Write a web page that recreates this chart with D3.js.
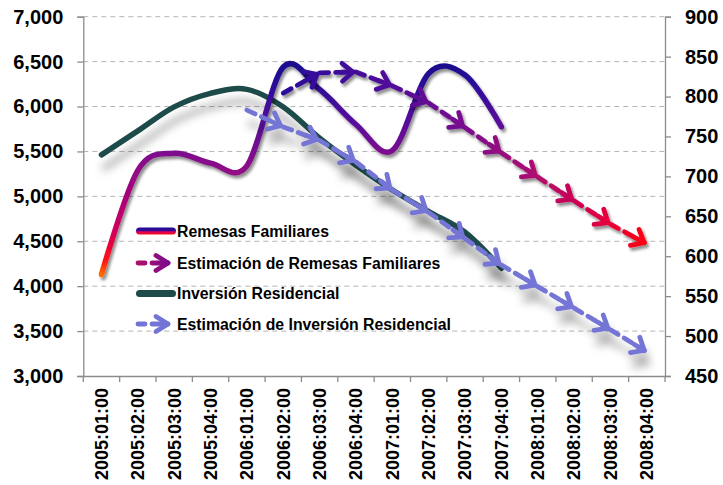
<!DOCTYPE html>
<html>
<head>
<meta charset="utf-8">
<script src="https://cdn.jsdelivr.net/npm/d3@7/dist/d3.min.js"></script>
<style>
  html, body { margin: 0; padding: 0; background: #fff; }
  svg { display: block; }
  text { font-family: "Liberation Sans", Arial, sans-serif; font-weight: bold; fill: #000; }
</style>
</head>
<body>
<svg id="chart" width="723" height="485"></svg>
<script>
// ---------------- DATA ----------------
const categories = ["2005:01:00","2005:02:00","2005:03:00","2005:04:00",
                    "2006:01:00","2006:02:00","2006:03:00","2006:04:00",
                    "2007:01:00","2007:02:00","2007:03:00","2007:04:00",
                    "2008:01:00","2008:02:00","2008:03:00","2008:04:00"];
// Left axis (Remesas Familiares)
const remesas        = [4130, 5290, 5480, 5370, 5340, 6440, 6190, 5800, 5510, 6370, 6350, 5775, null, null, null, null];
const estRemesas     = [null, null, null, null, null, 6150, 6375, 6385, 6230, 6040, 5765, 5485, 5215, 4950, 4690, 4470];
// Right axis (Inversión Residencial)
const inversion      = [727, 757, 787, 804, 809, 787, 748, 714, 683, 656, 630, 585, null, null, null, null];
const estInversion   = [null, null, null, null, 783, 762, 745, 718, 683, 655, 622, 589, 562, 535, 508, 480];
const leftTicks  = [3000, 3500, 4000, 4500, 5000, 5500, 6000, 6500, 7000];
const rightTicks = [450, 500, 550, 600, 650, 700, 750, 800, 850, 900];
const legendLabels = ["Remesas Familiares", "Estimación de Remesas Familiares",
                      "Inversión Residencial", "Estimación de Inversión Residencial"];

// ---------------- LAYOUT / STYLE ----------------
const P = { left: 83.3, right: 665, top: 16.7, bottom: 376 };
const green = "#1e4b4a", lilac = "#7474d6";

const svg = d3.select("#chart");
const defs = svg.append("defs");

const x = d3.scaleBand().domain(categories).range([P.left, P.right]).padding(0);
const cx = c => x(c) + x.bandwidth() / 2;
const yL = d3.scaleLinear().domain([3000, 7000]).range([P.bottom, P.top]);
const yR = d3.scaleLinear().domain([450, 900]).range([P.bottom, P.top]);

// gradients
const remStops = [[6450,"#1c0a8f"],[6150,"#33099a"],[5800,"#5a0a9a"],[5450,"#800a8c"],
                  [5000,"#a8057a"],[4600,"#d2005a"],[4300,"#ff0a1a"],[4130,"#ff6a00"]];
const gRem = defs.append("linearGradient").attr("id","gRem")
  .attr("gradientUnits","userSpaceOnUse")
  .attr("x1",0).attr("x2",0).attr("y1",yL(6450)).attr("y2",yL(4130));
remStops.forEach(s => gRem.append("stop")
  .attr("offset",(yL(s[0])-yL(6450))/(yL(4130)-yL(6450))).attr("stop-color",s[1]));

const estStops = [[0,"#2a0a9a"],[0.3,"#500a9a"],[0.5,"#7a0a8e"],[0.65,"#a30a78"],
                  [0.8,"#cc0555"],[0.9,"#e8033a"],[1,"#ff0010"]];
const gEst = defs.append("linearGradient").attr("id","gEst")
  .attr("gradientUnits","userSpaceOnUse")
  .attr("x1",cx(categories[5])).attr("x2",cx(categories[15])).attr("y1",0).attr("y2",0);
estStops.forEach(s => gEst.append("stop").attr("offset",s[0]).attr("stop-color",s[1]));

// legend gradients
const gLegRem = defs.append("linearGradient").attr("id","gLegRem")
  .attr("x1",0).attr("x2",0).attr("y1",0).attr("y2",1);
gLegRem.append("stop").attr("offset",0).attr("stop-color","#1c0a8f");
gLegRem.append("stop").attr("offset",0.45).attr("stop-color","#3a0a9a");
gLegRem.append("stop").attr("offset",0.6).attr("stop-color","#d0005a");
gLegRem.append("stop").attr("offset",1).attr("stop-color","#ff0a1a");
const gLegEst = defs.append("linearGradient").attr("id","gLegEst")
  .attr("gradientUnits","userSpaceOnUse")
  .attr("x1",137).attr("x2",170).attr("y1",0).attr("y2",0);
gLegEst.append("stop").attr("offset",0).attr("stop-color","#b0106a");
gLegEst.append("stop").attr("offset",1).attr("stop-color","#7a0a8e");

// shadow filters
function shadow(id, dx, dy, sd, op) {
  const f = defs.append("filter").attr("id", id)
    .attr("filterUnits","userSpaceOnUse").attr("x",0).attr("y",0).attr("width",723).attr("height",485);
  f.append("feDropShadow").attr("dx",dx).attr("dy",dy).attr("stdDeviation",sd)
    .attr("flood-color","#000").attr("flood-opacity",op);
}
shadow("shNear", 2, 3, 1.6, 0.45);
shadow("shFar", 3, 13, 4, 0.32);

// ---------------- GRID ----------------
svg.append("g").selectAll("line").data(leftTicks.filter(t => t !== 3000)).join("line")
  .attr("x1",P.left).attr("x2",P.right)
  .attr("y1",d=>yL(d)).attr("y2",d=>yL(d))
  .attr("stroke","#b4b4b4").attr("stroke-width",1).attr("stroke-dasharray","5,4");

// ---------------- AXES ----------------
const axL = svg.append("g").attr("transform",`translate(${P.left},0)`)
  .call(d3.axisLeft(yL).tickValues(leftTicks).tickFormat(d3.format(",")).tickSize(6).tickPadding(14));
const axR = svg.append("g").attr("transform",`translate(${P.right},0)`)
  .call(d3.axisRight(yR).tickValues(rightTicks).tickFormat(d3.format("d")).tickSize(6).tickPadding(14));
[axL, axR].forEach(a => {
  a.select(".domain").attr("stroke","#8c8c8c").attr("stroke-width",1.3);
  a.selectAll(".tick line").attr("stroke","#8c8c8c").attr("stroke-width",1.3);
  a.selectAll(".tick text").style("font-size","20px").style("font-family","'Liberation Sans', Arial, sans-serif")
    .style("font-weight","bold").attr("fill","#000");
});

const axB = svg.append("g").attr("transform",`translate(0,${P.bottom})`)
  .call(d3.axisBottom(x).tickSize(0).tickPadding(0));
axB.select(".domain").attr("stroke","#8c8c8c").attr("stroke-width",1.3);
axB.selectAll(".tick text")
  .attr("transform","rotate(-90)").attr("x",-12).attr("y",0).attr("dy","0.35em")
  .attr("text-anchor","end")
  .style("font-size","18px").style("font-family","'Liberation Sans', Arial, sans-serif")
  .style("font-weight","bold").attr("fill","#000");
// tick marks at band boundaries
const bounds = categories.map(c => x(c)).concat([P.right]);
svg.append("g").selectAll("line").data(bounds).join("line")
  .attr("x1",d=>d).attr("x2",d=>d).attr("y1",P.bottom).attr("y2",P.bottom+6)
  .attr("stroke","#8c8c8c").attr("stroke-width",1.3);

// ---------------- SERIES ----------------
const pts = (arr, y) => categories.map((c,i) => arr[i] == null ? null : [cx(c), y(arr[i])]);
const smooth = d3.line().defined(d => d != null).x(d => d[0]).y(d => d[1])
  .curve(d3.curveCatmullRom.alpha(0));

// Inversión Residencial
svg.append("path").attr("d", smooth(pts(inversion, yR)))
  .attr("fill","none").attr("stroke",green).attr("stroke-width",5.5)
  .attr("stroke-linecap","round").attr("stroke-linejoin","round")
  .attr("filter","url(#shFar)");

// Remesas Familiares
svg.append("path").attr("d", smooth(pts(remesas, yL)))
  .attr("fill","none").attr("stroke","url(#gRem)").attr("stroke-width",5.5)
  .attr("stroke-linecap","round").attr("stroke-linejoin","round")
  .attr("filter","url(#shNear)");

// dashed estimation with chevrons
function estimation(arr, y, stroke, filter) {
  const p = pts(arr, y);
  const g = svg.append("g").attr("filter", filter);
  const arm = 14, ang = 40 * Math.PI / 180;
  for (let i = 0; i < p.length - 1; i++) {
    if (!p[i] || !p[i+1]) continue;
    const [x0,y0] = p[i], [x1,y1] = p[i+1];
    const dx = x1-x0, dy = y1-y0, L = Math.hypot(dx,dy), ux = dx/L, uy = dy/L;
    const tx = x1 - 3*ux, ty = y1 - 3*uy;
    g.append("path").attr("d", d3.line()([[x0,y0],[tx,ty]]))
      .attr("fill","none").attr("stroke",stroke).attr("stroke-width",4.8)
      .attr("stroke-linecap","round").attr("stroke-dasharray","9,7");
    const a1 = [tx - arm*(ux*Math.cos(ang) - uy*Math.sin(ang)), ty - arm*(uy*Math.cos(ang) + ux*Math.sin(ang))];
    const a2 = [tx - arm*(ux*Math.cos(ang) + uy*Math.sin(ang)), ty - arm*(uy*Math.cos(ang) - ux*Math.sin(ang))];
    g.append("path").attr("d", d3.line()([a1,[tx,ty],a2]))
      .attr("fill","none").attr("stroke",stroke).attr("stroke-width",4.8)
      .attr("stroke-linecap","round").attr("stroke-linejoin","round");
    g.append("path").attr("d", d3.line()([[tx-12*ux,ty-12*uy],[tx,ty]]))
      .attr("fill","none").attr("stroke",stroke).attr("stroke-width",4.8)
      .attr("stroke-linecap","round");
  }
}
estimation(estInversion, yR, lilac, "url(#shFar)");
estimation(estRemesas, yL, "url(#gEst)", "url(#shNear)");

// ---------------- LEGEND ----------------
const legY = [231, 263, 293.5, 324];
const lg = svg.append("g");
// 1: Remesas
lg.append("rect").attr("x",136).attr("y",legY[0]-3.5).attr("width",40).attr("height",7)
  .attr("rx",3.5).attr("fill","url(#gLegRem)");
// 3: Inversión
lg.append("rect").attr("x",136).attr("y",legY[2]-3.5).attr("width",40).attr("height",7)
  .attr("rx",3.5).attr("fill",green);
// 2 & 4: estimations
function legArrow(yy, stroke) {
  lg.append("path").attr("d", d3.line()([[138,yy],[145,yy]])).attr("stroke",stroke)
    .attr("stroke-width",4.8).attr("stroke-linecap","round").attr("fill","none");
  lg.append("path").attr("d", d3.line()([[152,yy],[168,yy]])).attr("stroke",stroke)
    .attr("stroke-width",4.8).attr("stroke-linecap","round").attr("fill","none");
  lg.append("path").attr("d", d3.line()([[156,yy-7.5],[168,yy],[156,yy+7.5]])).attr("stroke",stroke)
    .attr("stroke-width",4.8).attr("stroke-linecap","round").attr("stroke-linejoin","round").attr("fill","none");
}
legArrow(legY[1], "url(#gLegEst)");
legArrow(legY[3], lilac);
lg.selectAll("text").data(legendLabels).join("text")
  .attr("x",177).attr("y",(d,i)=>legY[i]).attr("dy","0.36em")
  .style("font-size","15.8px").text(d=>d);
</script>
</body>
</html>
